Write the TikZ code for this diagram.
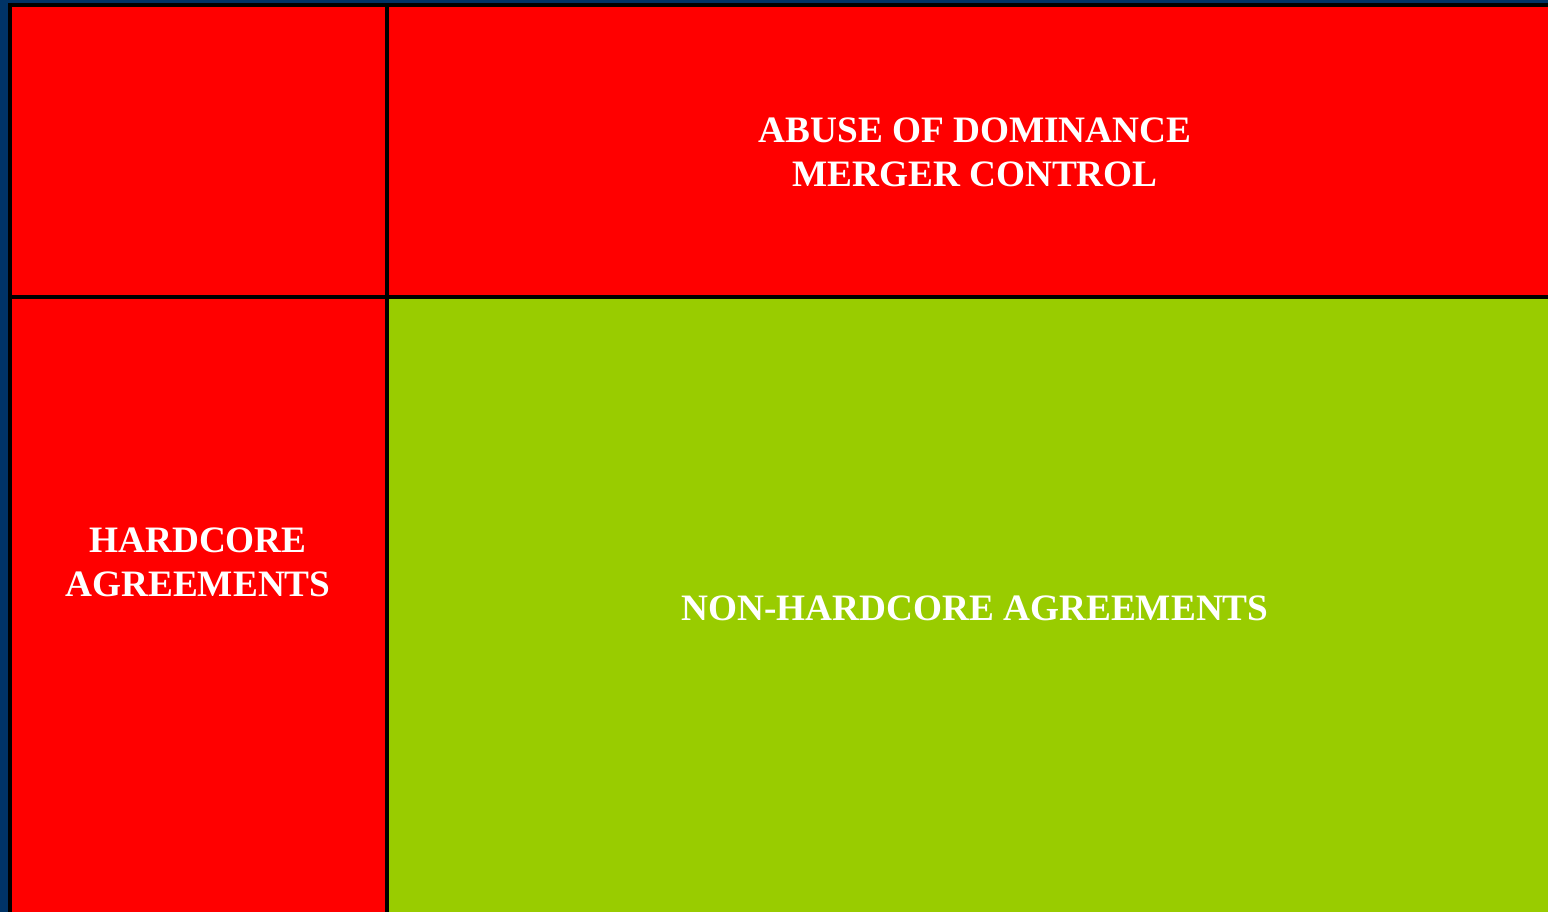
\documentclass[tikz,border=0pt]{standalone}
\usepackage{fontspec}
\setmainfont{Liberation Serif}
\usepackage{tikz}
\usetikzlibrary{positioning}
\definecolor{navy}{HTML}{003366}
\definecolor{hardred}{HTML}{FF0000}
\definecolor{softgreen}{HTML}{99CC00}
\tikzset{cell/.style={draw=black, line width=0.9pt},
  celltext/.style={text=white, align=center, font=\bfseries\fontsize{10.6}{12.5}\selectfont}}

\begin{document}
\begin{tikzpicture}[x=0.01cm, y=-0.01cm]
    \useasboundingbox (0,0) rectangle (1548,912);
    \fill[navy] (0,0) rectangle (1548,912);
    \filldraw[cell, fill=hardred]	(10,5) 	rectangle 	(387,297);
    \filldraw[cell, fill=hardred]	(387,5) 	rectangle 	(1570,297);
    \filldraw[cell, fill=hardred]	(10,297) 	rectangle 	(387,930);
    \filldraw[cell, fill=softgreen]	(387,297) 	rectangle 	(1570,930);
    \node[celltext]	(dom) 	at 	(975,152) 	{ABUSE OF DOMINANCE\\MERGER CONTROL};
    \node[celltext]	(hard) 	at 	(198,562) 	{HARDCORE\\AGREEMENTS};
    \node[celltext]	(soft) 	at 	(975,608) 	{NON-HARDCORE AGREEMENTS};
\end{tikzpicture}
\end{document}
